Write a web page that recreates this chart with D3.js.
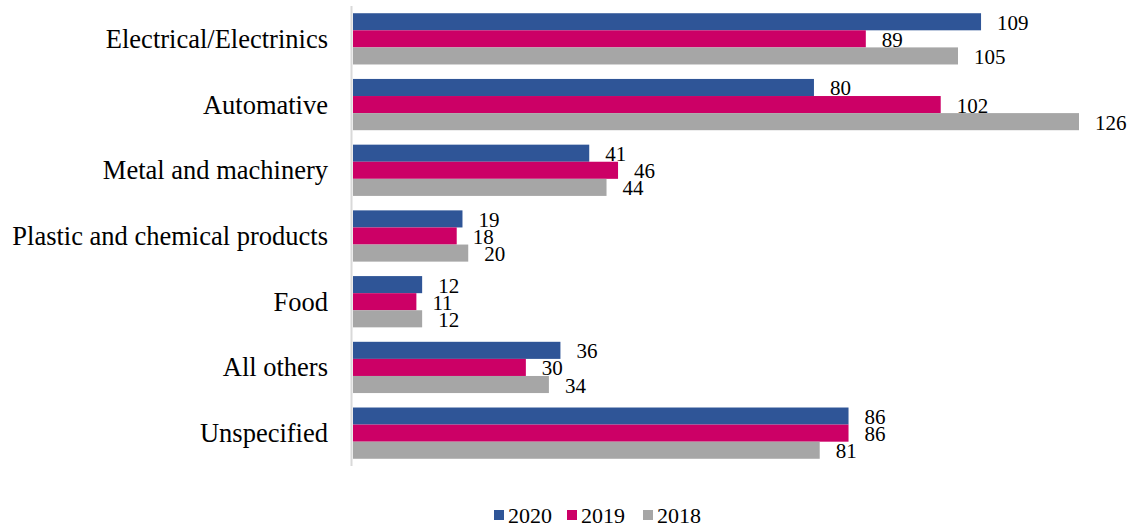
<!DOCTYPE html>
<html>
<head>
<meta charset="utf-8">
<script src="https://cdn.jsdelivr.net/npm/d3@7"></script>
<style>
  html, body { margin: 0; padding: 0; background: #fff; }
  svg { display: block; }
</style>
</head>
<body>
<svg id="chart" width="1133" height="526"></svg>
<script>
// Categories, top to bottom
const categories = [
  "Electrical/Electrinics",
  "Automative",
  "Metal and machinery",
  "Plastic and chemical products",
  "Food",
  "All others",
  "Unspecified"
];
const seriesNames = ["2020", "2019", "2018"];
const values2020 = [109, 80, 41, 19, 12, 36, 86];
const values2019 = [89, 102, 46, 18, 11, 30, 86];
const values2018 = [105, 126, 44, 20, 12, 34, 81];
const seriesColors = ["#2F5597", "#CC0066", "#A6A6A6"];

const seriesValues = [values2020, values2019, values2018];
const serif = "Liberation Serif";

const svg = d3.select("#chart");
const plot = { left: 353, right: 1079, top: 6, bottom: 466 };

const x = d3.scaleLinear().domain([0, 126]).range([plot.left, plot.right]);
const y0 = d3.scaleBand().domain(categories).range([plot.top, plot.bottom]).paddingInner(0.22).paddingOuter(0.11);
const y1 = d3.scaleBand().domain(seriesNames).range([0, y0.bandwidth()]);

// Category axis line
svg.append("line")
  .attr("x1", plot.left - 1.5).attr("x2", plot.left - 1.5)
  .attr("y1", plot.top).attr("y2", plot.bottom)
  .attr("stroke", "#d9d9d9").attr("stroke-width", 2);

// Category labels
svg.append("g").selectAll("text")
  .data(categories)
  .join("text")
  .attr("x", 328)
  .attr("y", d => y0(d) + y0.bandwidth() / 2 + 9)
  .attr("text-anchor", "end")
  .style("font-family", serif)
  .style("font-size", "26.5px")
  .style("fill", "#000")
  .text(d => d);

// Bars and value labels
const groups = svg.append("g").selectAll("g")
  .data(categories)
  .join("g")
  .attr("transform", d => `translate(0,${y0(d)})`);

groups.selectAll("rect")
  .data((d, i) => seriesNames.map((s, j) => ({ s, j, v: seriesValues[j][i] })))
  .join("rect")
  .attr("x", x(0))
  .attr("y", d => y1(d.s))
  .attr("width", d => x(d.v) - x(0))
  .attr("height", y1.bandwidth())
  .attr("fill", d => seriesColors[d.j]);

groups.selectAll("text")
  .data((d, i) => seriesNames.map((s, j) => ({ s, j, v: seriesValues[j][i] })))
  .join("text")
  .attr("x", d => x(d.v) + 16)
  .attr("y", d => y1(d.s) + y1.bandwidth() / 2 + 8)
  .style("font-family", serif)
  .style("font-size", "21px")
  .style("fill", "#000")
  .text(d => d.v);

// Legend
const legend = svg.append("g").attr("transform", "translate(494,515)");
const legendX = [0, 73, 149];
seriesNames.forEach((s, j) => {
  const g = legend.append("g").attr("transform", `translate(${legendX[j]},0)`);
  g.append("rect").attr("x", 0).attr("y", -5).attr("width", 10).attr("height", 10).attr("fill", seriesColors[j]);
  g.append("text").attr("x", 14).attr("y", 8)
    .style("font-family", serif)
    .style("font-size", "22px")
    .style("fill", "#000")
    .text(s);
});
</script>
</body>
</html>
